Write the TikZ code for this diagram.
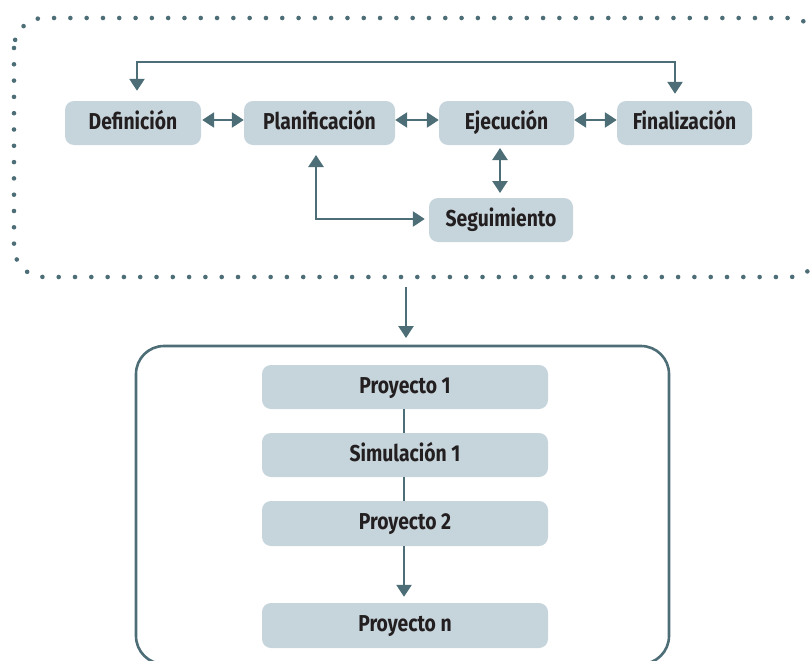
\documentclass[tikz,border=0pt]{standalone}
\usepackage{fontspec}
\setmainfont{Fira Sans}[FakeStretch=0.84]
\usetikzlibrary{arrows.meta,calc}

\definecolor{boxfill}{HTML}{C6D4DB}
\definecolor{teal}{HTML}{4D6E76}
\definecolor{ink}{HTML}{231F20}

\tikzset{
  stage/.style={draw=none, fill=boxfill, rounded corners=9pt, minimum height=44pt,
    inner sep=0pt, text=ink, text height=16pt, text depth=4pt,
    font=\fontsize{23}{23}\selectfont\bfseries},
  link/.style={draw=teal, line width=2.6pt},
  tip/.style={-{Triangle[width=15pt,length=12pt]}},
  tips/.style={{Triangle[width=15pt,length=12pt]}-{Triangle[width=15pt,length=12pt]}},
  dotframe/.style={draw=teal, line width=4.6pt, line cap=round,
    dash pattern=on 0pt off 16.3pt, rounded corners=30pt},
  frame/.style={draw=teal, line width=2.6pt, rounded corners=28pt}
}

\begin{document}
\begin{tikzpicture}[x=1pt, y=-1pt]
\useasboundingbox (0,0) rectangle (811,661);
\clip (0,0) rectangle (811,661);

% outer dotted boundary of the process cycle
\draw[dotframe] (14,18) rectangle (820,277);

% process stages
\node[stage, minimum width=136pt] (def)  at (133,123)   {Definición};
\node[stage, minimum width=151pt] (plan) at (319.5,123) {Planificación};
\node[stage, minimum width=135pt] (eje)  at (506.5,123) {Ejecución};
\node[stage, minimum width=135pt] (fin)  at (684.5,123) {Finalización};
\node[stage, minimum width=144pt] (seg)  at (501,220)   {Seguimiento};

% horizontal two-way links
\draw[link, tips, shorten <=1pt] ([yshift=3pt]def.east) -- ([yshift=3pt]plan.west);
\draw[link, tips] ([yshift=3pt]plan.east) -- ([yshift=3pt]eje.west);
\draw[link, tips] ([yshift=3pt]eje.east) -- ([yshift=3pt]fin.west);

% loop from definition to closing
\coordinate (topline) at (0,62);
\coordinate (defin) at ([xshift=4pt,yshift=10pt]def.north);
\coordinate (finin) at ([xshift=-9.5pt,yshift=7pt]fin.north);
\draw[link, tips] (defin) -- (defin |- topline) -- (finin |- topline) -- (finin);

% execution and monitoring
\coordinate (ejedown) at (500,148);
\coordinate (segup) at (500,193);
\draw[link, tips] (ejedown) -- (segup);

% monitoring back to planning
\coordinate (planin) at (316,155);
\coordinate (segin) at ([xshift=-4pt,yshift=1pt]seg.west);
\draw[link, tips] (segin) -- (planin |- segin) -- (planin);

% projects block
\draw[frame] (136,346) rectangle (669,664);
\coordinate (cycleout) at (406,287);
\coordinate (blockin) at (406,338);
\draw[link, tip] (cycleout) -- (blockin);

\node[stage, minimum width=286pt, minimum height=44pt] (p1) at (405,387)   {Proyecto 1};
\node[stage, minimum width=286pt, minimum height=44pt] (s1) at (405,455)   {Simulación 1};
\node[stage, minimum width=286pt, minimum height=45pt] (p2) at (405,523.5) {Proyecto 2};
\node[stage, minimum width=286pt, minimum height=45pt] (pn) at (405,625.5) {Proyecto n};

\draw[link] ([xshift=-1pt]p1.south) -- ([xshift=-1pt]s1.north);
\draw[link] ([xshift=-1pt]s1.south) -- ([xshift=-1pt]p2.north);
\draw[link, tip, shorten >=6pt] ([xshift=-1pt]p2.south) -- ([xshift=-1pt]pn.north);
\end{tikzpicture}
\end{document}
